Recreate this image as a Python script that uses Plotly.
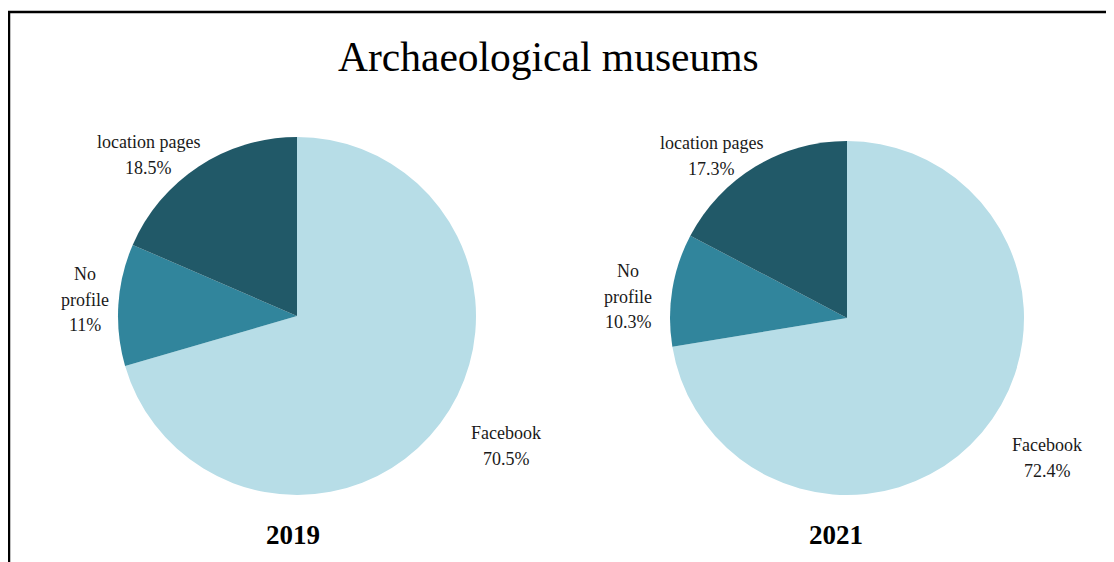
import plotly.graph_objects as go

# ---- data ----
categories = ["Facebook", "No profile", "location pages"]
label_lines = [["Facebook"], ["No", "profile"], ["location pages"]]
values_2019 = [70.5, 11, 18.5]
values_2021 = [72.4, 10.3, 17.3]
years = ["2019", "2021"]
colors = ["#b7dde7", "#31859c", "#215968"]

W, H = 1114, 562
OX, OY = 8, 8  # page body margin offset
FONT = "Liberation Serif, Times New Roman, serif"


def px(x):
    return (x - OX) / W


def py(y):
    return 1 - (y - OY) / H


fig = go.Figure()

# pie geometry (pixels): center x, center y, radius
pies = [
    dict(vals=values_2019, cx=297, cy=316, r=179),
    dict(vals=values_2021, cx=847, cy=318, r=177),
]
for p in pies:
    fig.add_trace(go.Pie(
        labels=categories, values=p["vals"], sort=False, direction="clockwise",
        rotation=0, textinfo="none", hoverinfo="label+percent",
        marker=dict(colors=colors, line=dict(width=0)),
        domain=dict(x=[px(p["cx"] - p["r"]), px(p["cx"] + p["r"])],
                    y=[py(p["cy"] + p["r"]), py(p["cy"] - p["r"])]),
        showlegend=False,
    ))

# label positions (pixels, first-line center) per pie and category
label_pos = [
    [(506, 433), (85, 274), (149, 142)],
    [(1047, 445), (628, 271), (711, 143)],
]
LINE_H = 25.5
annotations = []
for pi, vals in enumerate([values_2019, values_2021]):
    for ci, cat in enumerate(categories):
        x0, y0 = label_pos[pi][ci]
        pct_txt = f"{vals[ci]:g}%"
        lines = label_lines[ci] + [pct_txt]
        for li, txt in enumerate(lines):
            annotations.append(dict(
                x=px(x0), y=py(y0 + li * LINE_H), xref="paper", yref="paper",
                text=txt, showarrow=False, xanchor="center", yanchor="middle",
                font=dict(family=FONT, size=18, color="#1a1a1a"),
            ))

year_x = [293, 836]
for yi, yr in enumerate(years):
    annotations.append(dict(
        x=px(year_x[yi]), y=py(535), xref="paper", yref="paper",
        text=f"<b>{yr}</b>", showarrow=False, xanchor="center", yanchor="middle",
        font=dict(family=FONT, size=27, color="#000000"),
    ))

annotations.append(dict(
    x=px(548), y=py(57), xref="paper", yref="paper",
    text="Archaeological museums", showarrow=False, xanchor="center", yanchor="middle",
    font=dict(family=FONT, size=41.5, color="#000000"),
))

shapes = [
    dict(type="line", xref="paper", yref="paper", x0=px(8), x1=1.0, y0=py(12), y1=py(12),
         line=dict(color="black", width=2.5)),
    dict(type="line", xref="paper", yref="paper", x0=px(9), x1=px(9), y0=0, y1=py(12),
         line=dict(color="black", width=2.5)),
]

fig.update_layout(
    width=W, height=H, margin=dict(l=0, r=0, t=0, b=0),
    paper_bgcolor="white", plot_bgcolor="white",
    annotations=annotations, shapes=shapes,
)

fig.write_html("out.html")
